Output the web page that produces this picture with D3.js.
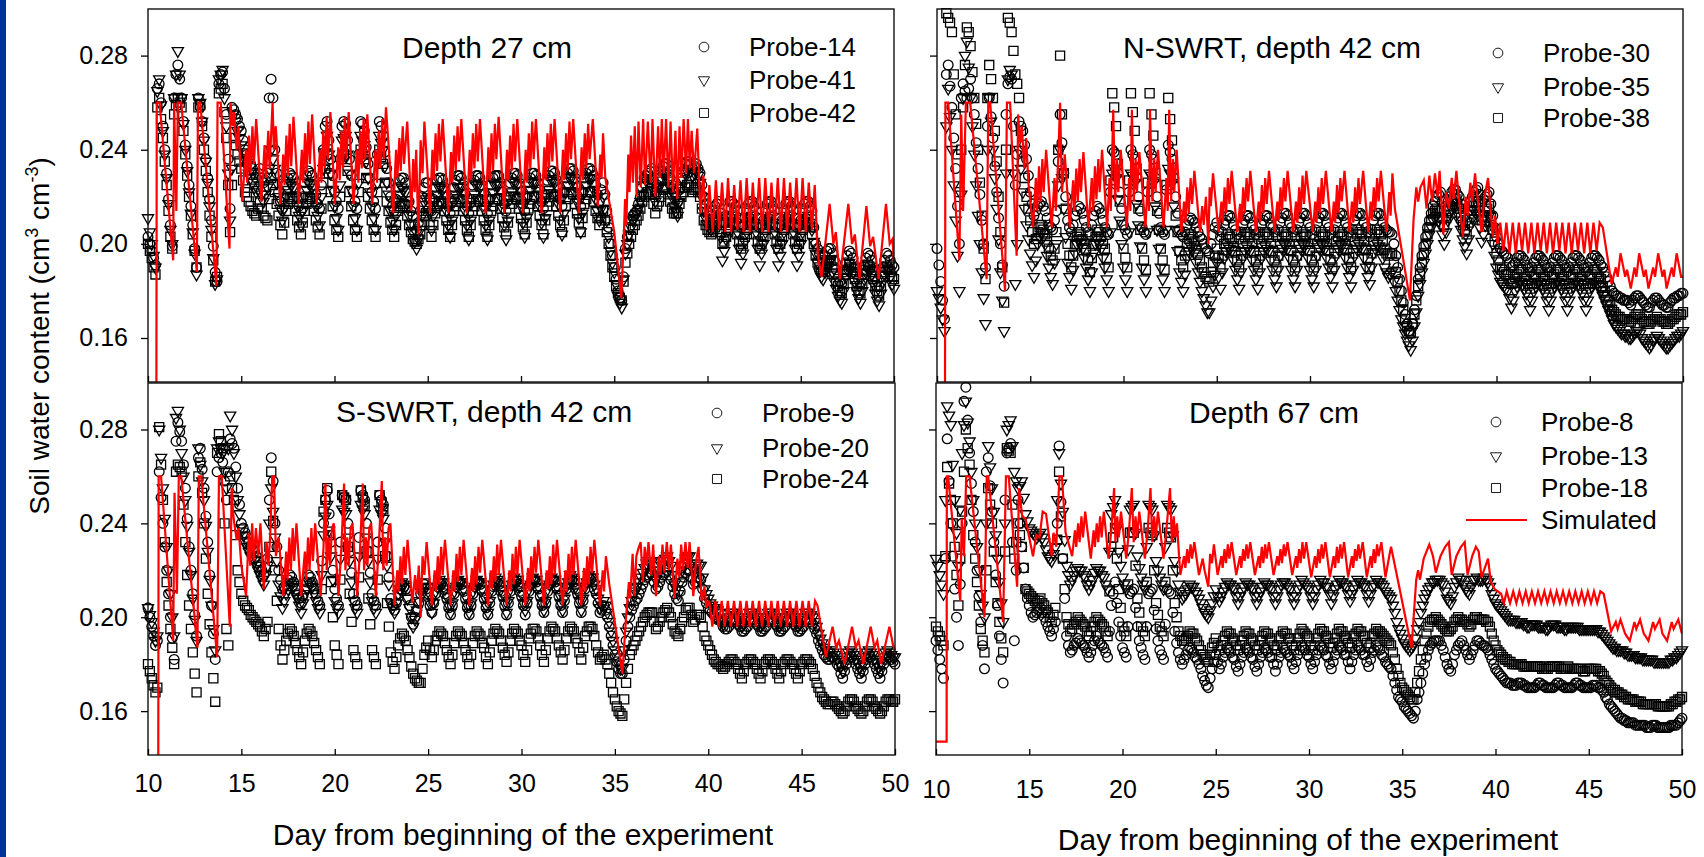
<!DOCTYPE html>
<html>
<head>
<meta charset="utf-8">
<script src="https://cdn.jsdelivr.net/npm/d3@7"></script>
<style>
  body { margin: 0; background: #fff; }
  text { font-family: "Liberation Sans", Arial, sans-serif; }
</style>
</head>
<body>
<svg width="1704" height="857"></svg>
<script>
// probe readings every 0.2 day: "a" series start at day 10.0, "b" series at day 10.1
// values in 1/1000 cm3 cm-3
const startA = 10, startB = 10.1, gridStep = 0.2;

const dayTicks = [10, 15, 20, 25, 30, 35, 40, 45, 50];
const swcTicks = [0.16, 0.20, 0.24, 0.28];

// ---- Depth 27 cm
const tl14 = [203,197,191,268,250, 230,208,262,276,262, 242,225,208,190,258, 245,228,210,188,268, 273,255,215,257,253,
  248,240,236,232,228, 232,226,230,270,240, 222,215,225,230,228, 220,214,226,231,229, 221,215,240,252,236,
  222,215,250,251,236, 222,215,252,248,234, 222,215,252,246,232, 220,214,224,228,226, 218,212,206,214,224,
  226,214,224,228,227, 220,213,224,229,228, 221,213,225,229,228, 221,213,225,229,229, 222,214,226,230,229,
  222,214,226,230,229, 223,215,227,231,230, 224,216,228,232,231, 224,216,228,232,231, 225,218,226,214,200,
  190,180,176,198,207, 212,214,220,228,230, 232,222,228,233,234, 228,222,218,228,234, 235,232,234,230,220,
  214,212,216,218,208, 212,218,217,214,207, 211,217,218,214,207, 210,217,218,214,207, 210,217,218,214,207,
  210,217,218,214,200, 196,193,197,198,193, 186,183,192,197,194, 187,183,191,196,193, 186,182,190,196,193,
  190];
const tl14b = [200,194,266,260,240, 219,199,272,270,252, 233,216,198,262,252, 236,219,199,184,272, 266,236,258,255,250,
  244,238,234,230,230, 228,227,262,262,230, 218,220,228,229,224, 216,220,229,230,225, 217,225,250,244,229,
  218,236,252,244,229, 218,238,251,241,228, 218,238,250,239,226, 216,219,227,228,222, 214,208,209,220,226,
  219,219,227,228,224, 216,218,227,229,225, 216,219,227,229,225, 216,219,228,229,226, 217,220,228,230,226,
  217,220,228,230,226, 218,221,229,231,227, 219,222,230,232,228, 219,222,230,232,229, 221,223,221,207,195,
  185,177,186,203,210, 213,217,224,229,231, 227,225,231,234,231, 225,220,223,231,235, 234,233,232,225,217,
  213,214,217,213,209, 215,218,216,211,208, 214,218,216,211,208, 214,218,216,211,208, 214,218,216,211,208,
  214,218,216,207,198, 194,195,198,196,189, 184,188,195,196,190, 185,187,194,195,189, 184,186,193,195,191];
const tl41 = [211,200,190,270,248, 228,206,262,282,262, 240,222,205,187,260, 244,226,206,183,270, 274,250,210,255,248,
  242,236,230,226,222, 225,218,224,240,232, 220,210,220,226,224, 216,208,220,226,224, 216,208,232,246,230,
  216,206,244,246,230, 216,206,246,242,228, 216,206,246,240,226, 214,206,218,224,222, 212,205,198,206,218,
  220,206,218,224,223, 214,203,218,224,224, 214,202,218,225,224, 215,202,219,225,225, 215,202,219,226,225,
  216,203,220,226,226, 216,203,220,227,226, 217,204,222,228,227, 218,205,222,228,228, 219,210,220,210,197,
  188,178,173,196,204, 210,213,218,225,228, 228,218,224,230,230, 224,216,212,224,230, 232,229,231,226,214,
  208,206,210,212,193, 202,210,212,205,192, 201,210,212,205,191, 200,210,212,205,191, 200,210,212,205,191,
  200,210,212,206,196, 188,185,191,193,184, 178,175,186,192,188, 180,175,185,191,187, 179,174,184,191,186,
  181];
const tl41b = [205,195,265,259,238, 217,200,272,272,251, 231,213,196,262,252, 235,216,194,185,272, 262,230,232,252,245,
  239,233,228,224,223, 221,221,232,236,226, 215,215,223,225,220, 212,214,223,225,220, 212,220,239,238,223,
  211,225,245,238,223, 211,226,244,235,222, 211,226,243,233,221, 210,212,221,223,217, 208,201,202,212,219,
  213,212,221,224,218, 208,210,221,224,219, 208,210,221,225,219, 208,210,222,225,220, 208,210,222,226,220,
  209,211,223,226,221, 209,211,223,227,221, 210,213,225,228,222, 211,213,225,228,223, 214,215,215,203,192,
  183,175,185,200,207, 211,215,221,227,228, 223,221,227,230,227, 220,214,218,227,231, 231,230,229,220,211,
  207,208,211,203,197, 206,211,209,198,196, 205,211,209,198,196, 205,211,209,198,195, 205,211,209,198,195,
  205,211,209,201,192, 186,188,192,188,181, 176,180,189,190,184, 177,180,188,189,183, 176,179,187,189,183];
const tl42 = [200,194,187,262,245, 225,203,255,262,258, 238,220,204,190,259, 240,222,203,184,264, 268,245,205,245,238,
  232,222,218,214,212, 218,212,210,228,222, 212,204,214,220,218, 210,204,214,220,218, 210,204,226,238,222,
  210,203,236,240,222, 210,203,240,236,220, 210,203,240,234,218, 209,203,214,218,216, 208,202,200,204,212,
  214,203,213,218,217, 210,203,214,219,218, 210,203,214,219,218, 210,203,214,219,219, 211,204,215,220,219,
  211,204,215,220,220, 212,204,216,221,220, 212,205,216,222,221, 213,205,217,222,222, 214,208,214,205,195,
  186,179,176,192,200, 206,210,215,220,222, 222,213,218,223,224, 218,213,213,220,224, 225,222,224,220,210,
  206,204,207,209,200, 203,208,209,204,198, 203,208,209,204,198, 203,208,209,204,198, 203,208,209,204,198,
  203,208,209,204,195, 190,188,192,193,187, 182,179,187,191,188, 182,179,187,191,188, 182,178,186,190,188,
  185];
const tl42b = [197,190,258,253,235, 214,198,259,260,248, 229,212,197,258,250, 231,212,193,186,266, 256,225,225,242,235,
  227,220,216,213,215, 215,211,219,225,217, 208,209,217,219,214, 207,209,217,219,214, 207,215,232,230,216,
  206,220,238,231,216, 206,222,238,228,215, 206,222,237,226,214, 206,208,216,217,212, 205,201,202,208,213,
  208,208,216,218,214, 206,208,216,219,214, 206,208,216,219,214, 206,208,216,219,215, 207,209,217,220,215,
  207,209,217,220,216, 208,210,218,221,216, 208,210,219,222,217, 209,211,219,222,218, 211,211,210,200,190,
  182,177,184,196,203, 208,212,218,221,222, 217,216,220,224,221, 215,213,217,222,225, 224,223,222,215,208,
  205,205,208,205,201, 206,209,207,201,200, 206,209,207,201,200, 206,209,207,201,200, 206,209,207,201,200,
  206,209,207,200,192, 189,190,193,190,184, 180,183,189,190,185, 180,183,189,190,185, 180,182,188,189,186];
const tlSim = [10.45,141, 10.47,260, 10.62,260, 11.35,193, 11.4,260, 11.52,214, 11.6,260, 11.78,260, 12.62,188, 12.68,260, 12.8,260,
  13.67,182, 13.73,260, 13.9,260, 14.37,198, 14.42,260, 14.55,250, 14.62,256, 14.75,240, 14.85,250, 15.05,218,
  15.25,240, 15.32,226, 15.42,246, 15.5,230, 15.6,250, 15.68,234, 15.8,253, 16.08,218,
  16.25,242, 16.32,228, 16.45,248, 16.52,232, 16.68,260, 16.75,240, 16.85,250, 17.1,217,
  17.25,238, 17.32,225, 17.42,246, 17.5,229, 17.6,251, 17.68,233, 17.8,254, 18.08,217,
  18.25,240, 18.32,226, 18.42,247, 18.5,230, 18.6,252, 18.68,234, 18.8,255, 19.05,217,
  19.22,240, 19.3,226, 19.4,248, 19.48,232, 19.58,254, 19.65,236, 19.78,256, 20.02,217,
  20.2,241, 20.28,227, 20.38,248, 20.46,232, 20.56,254, 20.64,236, 20.76,256, 21.02,217,
  21.2,240, 21.28,226, 21.38,248, 21.46,232, 21.56,253, 21.64,236, 21.76,255, 22.02,217,
  22.2,240, 22.28,226, 22.38,248, 22.46,232, 22.56,253, 22.64,236, 22.76,258, 23.15,213,
  23.3,240, 23.37,228, 23.48,245, 23.55,231, 23.66,250, 23.73,234, 23.9,252, 24.12,214,
  24.22,236, 24.3,222, 24.38,240, 24.5,204, 24.62,244, 24.72,230, 24.82,252, 25.12,213,
  25.25,240, 25.32,227, 25.42,247, 25.5,231, 25.6,251, 25.68,235, 25.8,253, 26.1,213,
  26.25,239, 26.32,226, 26.42,246, 26.5,231, 26.6,250, 26.68,235, 26.8,253, 27.1,213,
  27.25,240, 27.32,227, 27.42,247, 27.5,232, 27.6,251, 27.68,235, 27.8,253, 28.1,213,
  28.25,241, 28.32,227, 28.42,247, 28.5,231, 28.6,251, 28.68,236, 28.8,254, 29.1,213,
  29.25,240, 29.32,227, 29.42,246, 29.5,231, 29.6,251, 29.68,235, 29.8,253, 30.1,213,
  30.25,240, 30.32,226, 30.42,247, 30.5,232, 30.6,252, 30.68,236, 30.8,253, 31.1,213,
  31.25,241, 31.32,227, 31.42,247, 31.5,232, 31.6,251, 31.68,235, 31.8,253, 32.1,213,
  32.25,240, 32.32,227, 32.42,247, 32.5,231, 32.6,252, 32.68,236, 32.8,253, 33.1,213,
  33.25,241, 33.32,227, 33.42,247, 33.5,232, 33.6,251, 33.68,236, 33.85,253, 34.12,216,
  34.25,238, 34.32,228, 34.4,247, 34.52,228, 35.0,205, 35.38,177, 35.5,200, 35.58,219, 35.65,208, 35.75,238, 35.82,222,
  35.9,246, 36.0,226, 36.1,250, 36.2,220, 36.3,252, 36.42,224, 36.55,253, 36.65,225, 36.8,252, 36.95,226, 37.05,253,
  37.2,220, 37.35,250, 37.45,228, 37.55,253, 37.65,230, 37.78,253, 37.9,224, 38.02,252, 38.15,222, 38.28,248, 38.38,219,
  38.5,250, 38.6,228, 38.72,253, 38.85,230, 38.95,253, 39.05,232, 39.15,248, 39.28,230, 39.45,249, 39.62,213,
  39.78,229, 39.93,206, 40.1,225, 40.28,205, 40.45,227, 40.62,206, 40.78,226, 40.95,205, 41.1,228, 41.27,205, 41.43,225,
  41.6,206, 41.77,227, 41.93,205, 42.1,228, 42.27,205, 42.43,226, 42.6,206, 42.77,228, 42.93,205, 43.1,228, 43.27,205,
  43.43,226, 43.6,206, 43.77,228, 43.93,205, 44.1,228, 44.27,205, 44.43,226, 44.6,206, 44.77,228, 44.93,205, 45.1,228,
  45.27,205, 45.43,226, 45.6,206, 45.75,225, 45.92,195, 46.12,186, 46.55,217, 46.75,200, 46.88,205, 47.1,185,
  47.55,217, 47.75,200, 47.9,204, 48.15,185, 48.52,216, 48.72,199, 48.88,203, 49.18,185, 49.57,217, 49.77,200,
  49.92,202, 50.0,192];

// ---- N-SWRT, depth 42 cm
const tr30 = [198,184,168,276,258, 232,200,268,262,270, 255,232,210,190,262, 245,222,200,182,268, 270,225,252,248,236,
  222,212,216,218,214, 208,206,214,255,230, 210,205,212,216,213, 207,204,212,216,213, 207,204,240,238,222,
  208,204,240,236,220, 207,204,240,236,220, 207,204,242,236,220, 206,203,208,211,209, 205,202,198,196,204,
  209,203,208,212,211, 206,202,208,212,211, 206,202,208,212,211, 207,203,209,213,212, 207,203,209,213,212,
  207,202,209,213,212, 207,202,209,213,212, 207,203,210,213,212, 207,203,210,213,212, 207,205,204,195,185,
  175,166,162,172,185, 195,203,210,216,220, 222,214,218,222,223, 220,214,210,218,222, 224,218,220,222,212,
  203,198,196,194,190, 192,195,194,191,188, 192,195,194,191,188, 192,195,194,191,188, 192,195,194,191,188,
  192,195,194,191,188, 184,180,178,177,176, 176,174,177,178,176, 174,173,176,177,175, 174,173,176,177,178,
  179];
const tr30b = [191,176,272,267,245, 216,262,265,266,262, 243,221,200,250,254, 233,211,191,255,271, 250,238,250,242,229,
  217,214,217,216,211, 207,210,235,243,220, 207,208,214,215,210, 205,208,214,215,210, 205,222,239,230,215,
  206,222,238,228,214, 205,222,238,228,213, 205,223,239,228,213, 204,205,210,210,207, 203,200,197,200,207,
  206,205,210,212,208, 204,205,210,212,208, 204,205,210,212,208, 205,206,211,213,209, 205,206,211,213,209,
  204,206,211,213,209, 204,206,211,213,209, 205,206,212,213,209, 205,206,212,213,209, 206,205,200,190,180,
  170,163,166,178,190, 199,207,213,218,221, 218,216,220,223,221, 217,212,214,220,223, 221,219,221,217,207,
  200,197,195,192,191, 194,195,193,190,190, 194,195,193,190,190, 194,195,193,190,190, 194,195,193,190,190,
  194,195,193,190,186, 182,179,178,177,176, 175,176,178,177,175, 173,175,177,176,174, 173,175,177,178,179];
const tr35 = [180,173,163,266,240, 210,180,262,286,262, 238,212,188,166,262, 240,215,188,163,270, 272,183,240,222,208,
  196,186,200,205,200, 190,183,200,240,215, 192,181,196,202,198, 190,180,196,202,198, 190,180,230,228,210,
  190,180,230,226,208, 190,180,230,226,206, 190,180,232,226,206, 188,180,194,199,196, 188,180,174,171,182,
  192,181,194,199,197, 189,181,194,199,197, 189,181,194,199,197, 189,182,195,200,198, 189,182,195,200,198,
  189,182,195,200,198, 190,182,195,200,198, 190,182,195,200,198, 190,183,196,200,198, 190,186,188,180,172,
  165,159,155,165,178, 188,196,204,210,212, 208,200,210,215,216, 210,202,196,208,214, 212,201,208,212,200,
  190,184,182,180,173, 180,184,183,179,172, 180,184,183,179,172, 180,184,183,179,172, 180,184,183,179,172,
  180,184,183,180,176, 172,168,165,163,162, 161,160,162,163,160, 158,156,159,161,159, 157,156,158,160,161,
  163];
const tr35b = [177,168,250,254,225, 195,221,280,275,250, 225,200,177,240,252, 228,202,176,230,274, 230,200,232,215,202,
  191,193,203,203,195, 186,192,225,228,203, 186,189,200,200,194, 185,188,200,200,194, 185,205,232,219,200,
  185,205,229,217,199, 185,205,229,216,198, 185,206,230,216,197, 184,187,197,198,192, 184,177,171,176,187,
  186,188,197,198,193, 185,188,197,198,193, 185,188,197,198,193, 185,189,198,199,194, 185,189,198,199,194,
  185,189,198,199,194, 186,189,198,199,194, 186,189,198,199,194, 186,190,198,199,194, 188,187,184,176,168,
  162,157,159,171,183, 192,200,207,211,210, 204,205,213,216,213, 206,199,202,211,213, 207,204,210,206,195,
  187,183,181,177,176, 182,184,181,176,176, 182,184,181,176,176, 182,184,181,176,176, 182,184,181,176,176,
  182,184,182,178,174, 170,166,164,162,161, 160,161,163,162,159, 157,157,160,160,158, 156,157,159,161,162];
const tr38 = [null,null,null,296,290, 255,222,258,292,284, 262,240,212,185,276, 262,235,205,175,296, 290,272,262,235,220,
  210,200,205,208,204, 198,193,205,280,230, 200,190,200,205,202, 198,188,200,206,203, 198,190,264,250,218,
  198,190,264,248,215, 198,189,264,246,214, 198,189,262,244,212, 197,190,200,204,201, 196,190,186,184,192,
  198,190,200,204,202, 197,190,200,205,203, 197,190,200,205,203, 197,190,200,205,203, 197,190,200,205,203,
  197,190,200,205,203, 197,190,201,205,203, 198,190,201,206,204, 198,190,201,206,204, 198,195,196,188,180,
  172,165,162,170,182, 192,200,207,213,215, 214,208,214,218,219, 215,208,204,214,218, 218,210,214,216,206,
  196,190,188,187,183, 186,189,188,185,181, 186,189,188,185,181, 186,189,188,185,181, 186,189,188,185,181,
  186,189,188,185,180, 176,172,170,169,168, 168,167,169,170,168, 167,166,168,169,168, 167,166,168,169,170,
  171];
const tr38b = [null,null,298,294,272, 238,240,276,290,273, 251,226,198,262,270, 248,220,190,240,294, 282,268,248,228,215,
  205,202,207,206,201, 195,198,240,255,215, 195,195,203,204,200, 193,194,203,205,200, 194,227,258,234,208,
  194,227,256,232,206, 193,226,255,230,206, 193,225,253,228,205, 193,195,202,203,198, 193,188,185,188,195,
  194,195,202,203,199, 193,195,203,204,200, 193,195,203,204,200, 193,195,203,204,200, 193,195,203,204,200,
  193,195,203,204,200, 193,196,203,204,200, 194,196,204,205,201, 194,196,204,205,201, 196,196,192,184,176,
  168,163,166,176,187, 196,204,210,214,214, 211,211,216,219,217, 211,206,209,216,218, 214,212,215,211,201,
  193,189,187,185,184, 187,189,186,183,183, 187,189,186,183,183, 187,189,186,183,183, 187,189,186,183,183,
  187,189,186,182,178, 174,171,169,168,168, 167,168,170,169,167, 166,167,168,168,167, 166,167,168,170,170];
const trSim = [10.43,141, 10.45,260, 10.6,260, 11.2,193, 11.3,255, 11.4,214, 11.55,260, 11.78,260, 12.66,185, 12.75,260, 12.85,260,
  13.65,180, 13.75,260, 13.92,260, 14.27,195, 14.35,255, 14.45,243, 14.55,250, 14.68,232, 14.78,245, 14.9,226, 15.15,207,
  15.3,228, 15.37,214, 15.47,233, 15.55,218, 15.65,236, 15.72,222, 15.85,240, 16.15,207,
  16.3,228, 16.37,214, 16.5,236, 16.6,260, 16.7,222, 16.85,238, 17.12,207,
  17.3,227, 17.37,214, 17.47,232, 17.55,218, 17.65,236, 17.72,222, 17.85,239, 18.12,207,
  18.3,228, 18.37,214, 18.47,233, 18.55,219, 18.65,236, 18.72,222, 18.85,240, 19.12,207,
  19.25,228, 19.32,214, 19.45,257, 19.55,218, 19.65,236, 19.72,222, 19.85,240, 20.18,207,
  20.3,228, 20.37,214, 20.45,257, 20.55,218, 20.65,236, 20.72,222, 20.85,239, 21.18,207,
  21.3,227, 21.37,214, 21.42,257, 21.55,218, 21.65,236, 21.72,222, 21.85,240, 22.15,207,
  22.3,228, 22.37,214, 22.45,257, 22.55,218, 22.65,236, 22.72,222, 22.85,240, 23.1,205,
  23.25,218, 23.32,209, 23.42,224, 23.5,213, 23.6,228, 23.68,217, 23.8,231, 24.1,205,
  24.22,216, 24.3,208, 24.42,220, 24.55,200, 24.62,224, 24.68,216, 24.8,230, 25.1,205,
  25.25,218, 25.32,209, 25.42,224, 25.5,213, 25.6,228, 25.68,217, 25.8,231, 26.1,205,
  26.25,217, 26.32,209, 26.42,224, 26.5,213, 26.6,228, 26.68,218, 26.8,231, 27.1,205,
  27.25,218, 27.32,209, 27.42,225, 27.5,213, 27.6,228, 27.68,217, 27.8,231, 28.1,205,
  28.25,218, 28.32,210, 28.42,224, 28.5,214, 28.6,228, 28.68,218, 28.8,231, 29.1,205,
  29.25,218, 29.32,209, 29.42,224, 29.5,213, 29.6,229, 29.68,217, 29.8,231, 30.15,205,
  30.28,218, 30.35,209, 30.45,224, 30.53,213, 30.63,228, 30.7,217, 30.85,231, 31.15,205,
  31.28,218, 31.35,209, 31.45,225, 31.53,213, 31.63,228, 31.7,218, 31.85,231, 32.12,205,
  32.25,218, 32.32,209, 32.42,224, 32.5,213, 32.6,228, 32.68,217, 32.85,231, 33.12,205,
  33.25,218, 33.32,210, 33.42,224, 33.5,214, 33.6,228, 33.68,218, 33.8,231, 34.1,205,
  34.25,222, 34.32,212, 34.42,230, 34.55,215, 35.36,176, 35.55,210, 35.7,224, 35.8,218, 35.92,224, 36.1,227, 36.25,215,
  36.4,229, 36.55,218, 36.7,230, 36.85,220, 36.95,231, 37.15,204, 37.3,222, 37.45,215, 37.6,228, 37.7,219, 37.85,231,
  37.95,222, 38.2,203, 38.35,220, 38.45,212, 38.6,226, 38.7,218, 38.85,230, 38.95,222, 39.2,205, 39.35,220, 39.55,228,
  39.8,203, 39.92,212, 40.05,200, 40.2,209, 40.37,197, 40.53,209, 40.7,196, 40.87,209, 41.03,196, 41.2,209, 41.37,197,
  41.53,209, 41.7,196, 41.87,209, 42.03,196, 42.2,209, 42.37,197, 42.53,209, 42.7,196, 42.87,209, 43.03,196, 43.2,209,
  43.37,197, 43.53,209, 43.7,196, 43.87,209, 44.03,196, 44.2,209, 44.37,197, 44.53,209, 44.7,196, 44.87,209, 45.03,196,
  45.2,209, 45.37,197, 45.53,209, 45.7,207, 46.17,183, 46.4,190, 46.5,186, 46.65,196, 46.9,186, 47.0,189, 47.2,181,
  47.4,190, 47.5,186, 47.65,196, 47.9,186, 48.0,189, 48.15,181, 48.4,190, 48.5,186, 48.67,196, 48.9,186, 49.0,189,
  49.12,181, 49.4,190, 49.5,186, 49.66,196, 49.9,186, 50.0,186];

// ---- S-SWRT, depth 42 cm
const bl9 = [204,196,188,262,240, 220,200,182,283,275, 255,230,210,192,272, 255,232,205,182,268, 266,250,276,272,255,
  240,236,232,229,226, 222,218,225,268,240, 220,212,214,218,215, 210,206,212,218,215, 210,205,240,254,232,
  212,205,252,250,228, 210,205,254,250,228, 210,205,252,248,226, 208,203,210,214,212, 205,197,203,210,214,
  210,202,210,215,213, 208,201,210,215,214, 208,201,210,215,214, 208,201,211,215,214, 209,201,211,216,214,
  209,201,211,216,215, 209,202,211,216,215, 209,202,212,216,215, 210,202,212,217,215, 210,202,205,200,192,
  184,178,176,190,200, 205,208,212,216,218, 218,212,215,218,220, 216,210,207,215,219, 220,214,217,216,208,
  204,202,200,199,196, 195,198,199,197,194, 195,198,199,197,194, 195,198,199,197,194, 195,198,199,197,194,
  195,198,199,197,193, 188,184,182,183,182, 179,174,180,184,182, 178,174,180,184,182, 178,174,180,184,182,
  180];
const bl9b = [200,192,190,251,230, 210,191,275,279,265, 242,220,201,268,263, 243,218,193,262,270, 258,262,274,264,248,
  238,234,230,228,224, 220,221,250,258,230, 216,213,216,217,212, 208,209,215,217,212, 207,224,250,244,220,
  208,232,251,240,219, 207,234,252,240,219, 207,232,250,238,217, 205,206,212,213,208, 200,200,206,212,212,
  205,206,213,214,210, 204,205,213,215,211, 204,205,213,215,211, 204,206,213,215,211, 205,206,214,215,211,
  205,206,214,216,212, 205,206,214,216,212, 205,207,214,216,212, 206,207,215,216,212, 206,203,203,196,188,
  181,176,182,196,203, 207,210,214,217,219, 215,213,217,219,218, 213,208,211,217,220, 217,215,217,212,206,
  203,201,199,198,195, 196,199,198,196,194, 196,199,198,196,194, 196,199,198,196,194, 196,199,198,196,194,
  196,199,198,195,190, 186,183,182,183,180, 176,177,182,183,180, 176,177,182,183,180, 176,177,182,183,181];
const bl20 = [204,198,190,280,255, 230,210,192,288,270, 250,228,208,190,265, 250,228,205,186,275, 270,255,286,270,250,
  238,232,228,225,222, 218,214,222,255,234, 214,204,210,215,213, 208,202,210,215,213, 207,202,235,248,226,
  207,202,246,244,224, 207,202,248,244,224, 207,202,246,242,222, 206,202,210,215,213, 204,196,203,211,215,
  211,202,211,216,215, 209,202,211,216,215, 209,202,211,216,215, 209,202,212,217,215, 210,202,212,217,216,
  210,203,212,217,216, 210,203,212,217,216, 210,203,213,218,216, 211,203,213,218,217, 212,204,207,202,194,
  186,180,178,194,204, 210,213,217,221,224, 224,216,220,224,226, 222,214,210,220,225, 226,220,223,222,212,
  208,205,204,202,197, 199,202,202,200,196, 199,202,202,200,196, 199,202,202,200,196, 199,202,202,200,196,
  199,202,202,200,196, 191,187,185,186,184, 181,177,183,186,184, 181,177,183,186,184, 181,177,183,186,184,
  183];
const bl20b = [201,194,192,268,242, 220,200,285,280,260, 239,218,199,272,258, 239,216,195,272,272, 262,272,280,260,244,
  235,230,226,224,220, 216,218,240,245,224, 209,207,212,214,210, 205,206,212,214,210, 204,218,243,237,216,
  204,225,245,234,215, 204,226,246,234,215, 204,225,244,232,214, 204,206,212,214,208, 200,199,207,213,213,
  206,206,213,215,212, 205,206,213,215,212, 205,206,213,215,212, 205,207,214,216,212, 206,207,214,216,213,
  206,207,214,216,213, 206,207,214,216,213, 206,208,215,217,213, 207,208,215,217,214, 208,205,205,198,190,
  183,178,186,200,207, 211,215,219,223,224, 220,218,222,225,224, 218,212,215,222,226, 223,221,222,217,210,
  206,204,203,199,198, 200,202,201,198,197, 200,202,201,198,197, 200,202,201,198,197, 200,202,201,198,197,
  200,202,201,198,193, 189,186,185,185,182, 179,180,185,185,182, 179,180,185,185,182, 179,180,185,185,183];
const bl24 = [180,174,168,281,250, 215,195,180,265,262, 232,205,185,168,266, 240,210,185,164,278, 272,195,260,250,220,
  210,205,203,200,198, 196,192,198,262,220, 195,182,190,195,192, 186,180,190,195,192, 186,180,245,255,215,
  188,180,252,250,210, 186,180,254,248,208, 186,180,252,246,206, 185,178,188,193,190, 183,176,173,172,184,
  190,183,190,194,192, 186,180,189,194,192, 186,180,189,194,192, 187,180,190,195,193, 187,181,190,195,193,
  188,181,191,195,194, 188,181,191,196,194, 188,182,191,196,194, 189,182,192,196,195, 188,182,184,180,172,
  165,160,158,172,184, 188,192,196,200,202, 202,195,198,202,204, 200,194,192,198,203, 204,198,201,200,192,
  188,184,181,180,178, 180,182,181,178,174, 180,182,181,178,174, 180,182,181,178,174, 180,182,181,178,174,
  180,182,181,178,172, 168,165,163,164,163, 161,159,162,165,164, 161,159,162,165,164, 161,159,162,165,164,
  165];
const bl24b = [177,171,170,265,232, 205,187,262,264,248, 218,195,176,260,253, 225,197,174,270,275, 240,188,255,235,215,
  207,204,201,199,197, 194,195,230,241,207, 188,186,193,194,189, 183,185,193,194,189, 183,212,250,235,200,
  184,216,251,230,198, 183,217,251,228,197, 183,216,249,226,196, 181,183,191,192,186, 179,174,172,178,187,
  186,186,192,193,189, 183,184,192,193,189, 183,184,192,193,189, 183,185,193,194,190, 184,185,193,194,190,
  184,186,193,195,191, 184,186,194,195,191, 185,186,194,195,191, 185,187,194,196,192, 185,183,182,176,168,
  162,159,165,178,186, 190,194,198,201,202, 198,196,200,203,202, 197,193,195,200,204, 201,199,201,196,190,
  186,182,180,179,179, 181,182,180,176,177, 181,182,180,176,177, 181,182,180,176,177, 181,182,180,176,177,
  181,182,180,175,170, 166,164,163,164,162, 160,160,164,165,162, 160,160,164,165,162, 160,160,164,165,164];
const blSim = [10.55,141, 10.57,260, 10.7,260, 11.35,190, 11.42,253, 11.55,210, 11.65,260, 11.78,260, 12.65,187, 12.72,260, 12.85,260,
  13.7,183, 13.8,260, 13.95,260, 14.38,196, 14.48,255, 14.55,245, 14.62,240, 14.75,233, 14.85,238, 15.0,222, 15.25,209,
  15.4,236, 15.47,222, 15.58,240, 15.66,224, 15.78,238, 15.9,226, 16.02,240, 16.2,212, 16.35,232, 16.45,222, 16.55,236,
  16.65,260, 16.75,260, 16.85,226, 17.0,234, 17.25,209,
  17.4,228, 17.47,216, 17.57,234, 17.65,220, 17.75,238, 17.83,224, 17.95,240, 18.2,209,
  18.4,228, 18.47,216, 18.57,234, 18.65,220, 18.75,238, 18.83,224, 18.95,240, 19.25,209,
  19.4,230, 19.5,257, 19.57,220, 19.67,234, 19.75,222, 19.85,238, 19.95,240, 20.2,209,
  20.35,229, 20.5,257, 20.57,220, 20.67,234, 20.75,222, 20.85,238, 20.95,240, 21.2,209,
  21.35,228, 21.5,257, 21.57,220, 21.67,234, 21.75,222, 21.85,238, 21.95,240, 22.2,209,
  22.35,229, 22.52,258, 22.6,220, 22.7,234, 22.78,222, 22.88,238, 22.98,240, 23.2,205,
  23.35,220, 23.42,211, 23.52,226, 23.6,214, 23.7,230, 23.78,218, 23.9,233, 24.15,206,
  24.3,218, 24.4,210, 24.5,222, 24.6,200, 24.7,226, 24.8,218, 24.92,232, 25.2,205,
  25.35,220, 25.42,211, 25.52,226, 25.6,214, 25.7,230, 25.78,218, 25.9,233, 26.2,205,
  26.35,220, 26.42,211, 26.52,227, 26.6,215, 26.7,230, 26.78,218, 26.9,233, 27.2,205,
  27.35,221, 27.42,211, 27.52,226, 27.6,214, 27.7,230, 27.78,219, 27.9,233, 28.2,205,
  28.35,220, 28.42,212, 28.52,226, 28.6,215, 28.7,231, 28.78,218, 28.9,233, 29.2,205,
  29.35,220, 29.42,211, 29.52,227, 29.6,214, 29.7,230, 29.78,218, 29.9,233, 30.2,205,
  30.35,221, 30.42,211, 30.52,226, 30.6,215, 30.7,230, 30.78,219, 30.9,233, 31.2,205,
  31.35,220, 31.42,212, 31.52,226, 31.6,214, 31.7,231, 31.78,218, 31.9,233, 32.2,205,
  32.35,220, 32.42,211, 32.52,227, 32.6,215, 32.7,230, 32.78,218, 32.9,233, 33.2,205,
  33.35,221, 33.42,211, 33.52,226, 33.6,214, 33.7,230, 33.78,219, 33.9,233, 34.2,205,
  34.35,220, 34.42,211, 34.52,226, 34.7,214, 35.4,176, 35.6,200, 35.75,215, 35.82,208, 35.95,227, 36.05,209, 36.15,226,
  36.25,229, 36.38,232, 36.5,215, 36.6,230, 36.7,222, 36.8,232, 36.95,218, 37.05,231, 37.2,209, 37.35,226, 37.45,218,
  37.55,231, 37.65,219, 37.78,232, 37.9,220, 38.0,231, 38.2,208, 38.35,225, 38.45,217, 38.55,231, 38.65,220, 38.78,232,
  38.9,221, 39.0,232, 39.2,209, 39.35,224, 39.48,230, 39.65,207, 39.8,213, 39.9,204,
  40.05,207, 40.22,196, 40.38,207, 40.55,196, 40.72,207, 40.88,196, 41.05,207, 41.22,196, 41.38,207, 41.55,196, 41.72,207,
  41.88,196, 42.05,207, 42.22,196, 42.38,207, 42.55,196, 42.72,207, 42.88,196, 43.05,207, 43.22,196, 43.38,207, 43.55,196,
  43.72,207, 43.88,196, 44.05,207, 44.22,196, 44.38,207, 44.55,196, 44.72,207, 44.88,196, 45.05,207, 45.22,196, 45.38,207,
  45.55,196, 45.72,207, 45.85,205, 46.3,183, 46.66,196, 46.85,187, 47.0,190, 47.3,180, 47.7,196, 47.9,187, 48.05,190,
  48.3,180, 48.7,196, 48.9,187, 49.05,190, 49.25,180, 49.7,196, 49.9,188, 50.0,186];

// ---- Depth 67 cm
const br8 = [190,182,174,276,240, 212,188,240,298,270, 245,220,198,178,268, 245,218,192,172,270, 274,190,250,230,212,
  205,200,202,204,200, 196,192,198,273,225, 192,185,188,191,189, 187,183,188,192,189, 187,183,205,215,198,
  187,183,210,212,196, 187,182,210,212,195, 186,182,212,210,194, 185,180,184,187,185, 182,178,173,170,178,
  184,178,183,187,185, 182,177,183,187,185, 182,177,183,187,185, 183,177,183,187,185, 183,178,184,188,186,
  183,178,184,188,186, 183,178,184,188,186, 184,178,184,188,186, 184,179,185,188,186, 183,180,178,172,166,
  164,161,159,157,165, 172,180,186,189,190, 190,186,180,177,184, 188,190,186,182,186, 190,189,188,186,182,
  178,176,174,172,172, 171,172,172,171,170, 170,171,172,171,170, 170,171,172,171,170, 170,171,172,171,170,
  170,171,171,170,168, 165,162,160,158,157, 156,155,155,154,154, 154,153,154,154,153, 153,153,154,154,155,
  157];
const br8b = [186,178,225,258,226, 200,214,292,284,257, 232,209,188,262,256, 232,205,182,250,272, 232,220,240,221,208,
  202,201,203,202,198, 194,195,240,249,208, 188,186,189,190,188, 185,185,190,190,188, 185,194,210,206,192,
  185,196,211,204,190, 184,196,211,203,190, 184,197,211,202,189, 182,182,186,186,183, 180,175,171,174,181,
  181,180,185,186,183, 179,180,185,186,183, 179,180,185,186,183, 180,180,185,186,184, 180,181,186,187,184,
  180,181,186,187,184, 180,181,186,187,184, 181,181,186,187,184, 181,182,186,187,184, 181,179,175,169,165,
  162,160,158,160,168, 176,183,188,190,190, 188,183,178,180,186, 189,188,184,184,188, 190,188,187,184,180,
  177,175,173,172,171, 171,172,171,170,170, 170,172,171,170,170, 170,172,171,170,170, 170,172,171,170,170,
  170,171,170,169,166, 163,161,159,157,156, 155,155,154,154,154, 153,153,154,153,153, 153,153,154,154,156];
const br13 = [225,218,210,290,282, 250,222,270,292,275, 250,230,210,200,273, 255,235,215,198,280, 284,262,255,258,244,
  238,236,234,236,232, 226,224,230,270,245, 222,214,218,221,220, 217,212,216,221,220, 217,212,244,250,228,
  217,212,246,248,226, 217,212,248,246,224, 217,212,248,246,224, 214,208,210,214,213, 210,206,202,200,206,
  212,207,211,215,214, 212,206,211,215,214, 212,206,211,215,214, 212,206,212,215,214, 212,206,212,216,214,
  212,206,212,216,215, 213,206,212,216,215, 213,207,212,216,215, 213,207,213,216,215, 213,210,208,202,195,
  191,188,186,188,195, 202,208,212,215,216, 216,214,208,206,213, 217,216,212,210,216, 217,216,217,215,210,
  206,204,202,200,199, 199,198,198,197,196, 197,197,196,196,195, 197,197,196,196,195, 196,196,196,195,195,
  195,195,195,194,192, 190,188,187,186,186, 185,184,184,183,183, 182,182,182,181,181, 181,181,182,183,184,
  186];
const br13b = [222,214,250,286,265, 236,246,282,283,262, 240,220,205,240,264, 245,225,206,240,282, 273,258,256,251,241,
  237,235,235,234,229, 225,227,250,257,233, 218,216,220,220,218, 214,214,219,220,218, 214,228,247,238,222,
  214,229,247,236,221, 214,230,247,235,220, 214,230,247,235,220, 211,209,212,213,211, 208,204,201,203,209,
  209,209,213,214,213, 209,209,213,214,213, 209,209,213,214,213, 209,209,214,215,213, 209,209,214,215,213,
  209,209,214,215,213, 210,209,214,215,214, 210,210,214,215,214, 210,210,214,215,214, 211,209,205,198,193,
  189,187,187,191,198, 205,210,213,215,216, 215,211,207,209,215, 216,214,211,213,216, 216,216,216,213,208,
  205,203,201,199,199, 198,198,197,196,197, 197,196,196,195,196, 197,196,196,195,196, 196,196,195,195,195,
  195,195,194,193,191, 189,187,186,186,185, 184,184,183,183,182, 182,182,181,181,181, 181,181,182,183,185];
const br18 = [196,192,188,264,250, 230,205,245,280,265, 235,215,195,185,255, 240,215,198,185,272, 270,225,240,230,212,
  210,208,206,208,205, 202,198,204,262,225, 200,194,197,200,198, 196,192,196,200,198, 196,192,230,238,212,
  196,192,236,236,208, 196,192,238,235,206, 196,192,238,234,206, 194,190,191,194,193, 190,186,183,181,187,
  191,186,190,194,193, 190,186,190,194,193, 190,186,190,194,193, 190,186,191,194,193, 191,186,191,195,193,
  191,186,191,195,194, 191,187,191,195,194, 191,187,192,195,194, 192,187,192,195,194, 192,190,188,182,175,
  170,168,166,165,172, 182,190,196,199,200, 198,196,194,195,198, 200,199,198,196,199, 200,199,199,198,193,
  188,185,183,182,181, 180,180,180,179,179, 179,179,179,178,178, 179,179,179,178,178, 178,178,178,178,177,
  178,178,178,177,175, 172,170,169,168,167, 166,165,165,164,164, 163,163,163,163,162, 162,162,163,164,165,
  166];
const br18b = [194,190,226,257,240, 218,225,262,272,250, 225,205,190,220,248, 228,206,191,228,271, 248,232,235,221,211,
  209,207,207,206,203, 200,201,233,243,212, 197,195,198,199,197, 194,194,198,199,197, 194,211,234,225,204,
  194,214,236,222,202, 194,215,236,220,201, 194,215,236,220,200, 192,190,192,193,191, 188,184,182,184,189,
  188,188,192,193,191, 188,188,192,193,191, 188,188,192,193,191, 188,188,192,193,191, 188,188,193,194,192,
  188,188,193,194,192, 189,189,193,194,192, 189,189,193,194,192, 189,189,193,194,193, 191,189,185,178,172,
  169,167,165,168,177, 186,193,198,199,199, 197,195,194,196,199, 199,198,197,197,200, 199,199,198,196,190,
  186,184,182,181,180, 180,180,179,179,179, 179,179,178,178,179, 179,179,178,178,179, 178,178,178,177,178,
  178,178,177,176,173, 171,169,168,167,166, 165,165,164,164,163, 163,163,163,162,162, 162,162,163,164,165];
const brSim = [10.0,147, 10.57,147, 10.58,260, 10.65,260, 11.3,207, 11.38,242, 11.5,226, 11.62,260, 11.8,260, 12.6,200, 12.72,260,
  12.8,260, 13.6,198, 13.75,260, 13.9,260, 14.35,213, 14.45,255, 14.62,243, 14.8,242, 15.2,226, 15.38,235, 15.55,234,
  15.72,245, 15.9,244, 16.2,226, 16.3,236, 16.45,230, 16.62,260, 16.75,260, 16.95,236, 17.3,226,
  17.45,237, 17.52,230, 17.62,240, 17.7,232, 17.8,243, 17.88,234, 18.0,245, 18.3,225,
  18.45,237, 18.52,230, 18.62,240, 18.7,232, 18.8,243, 18.88,234, 19.0,245, 19.25,225,
  19.4,237, 19.55,255, 19.62,232, 19.72,243, 19.8,234, 19.92,245, 20.2,225,
  20.35,237, 20.5,255, 20.6,232, 20.7,243, 20.78,234, 20.9,245, 21.2,225,
  21.35,237, 21.5,255, 21.6,232, 21.7,243, 21.78,234, 21.9,245, 22.2,225,
  22.35,237, 22.55,255, 22.65,232, 22.75,243, 22.82,234, 22.92,240, 23.1,218,
  23.3,226, 23.37,221, 23.47,229, 23.55,223, 23.65,231, 23.73,225, 23.85,232, 24.1,218,
  24.3,225, 24.4,220, 24.6,213, 24.7,227, 24.8,223, 24.9,231, 25.1,218,
  25.3,226, 25.37,221, 25.47,229, 25.55,223, 25.65,231, 25.73,225, 25.85,232, 26.1,218,
  26.3,226, 26.37,221, 26.47,229, 26.55,224, 26.65,231, 26.73,225, 26.85,232, 27.1,218,
  27.3,226, 27.37,221, 27.47,230, 27.55,223, 27.65,231, 27.73,225, 27.85,232, 28.1,218,
  28.3,226, 28.37,222, 28.47,229, 28.55,223, 28.65,231, 28.73,226, 28.85,232, 29.1,218,
  29.3,226, 29.37,221, 29.47,229, 29.55,223, 29.65,232, 29.73,225, 29.85,232, 30.12,217,
  30.32,226, 30.4,221, 30.5,229, 30.58,223, 30.68,231, 30.76,225, 30.88,232, 31.12,217,
  31.32,226, 31.4,221, 31.5,230, 31.58,223, 31.68,231, 31.76,225, 31.88,232, 32.1,217,
  32.3,226, 32.37,221, 32.47,229, 32.55,224, 32.65,231, 32.73,225, 32.88,232, 33.1,217,
  33.3,226, 33.37,221, 33.47,229, 33.55,223, 33.65,231, 33.73,226, 33.88,232, 34.1,217,
  34.3,226, 34.4,230, 35.5,187, 35.75,216, 35.85,220, 35.95,216, 36.15,225, 36.45,231, 36.65,226, 36.8,219, 37.05,226,
  37.3,230, 37.5,232, 37.65,218, 37.9,226, 38.15,230, 38.35,232, 38.5,218, 38.75,226, 38.95,230, 39.1,228, 39.25,217,
  39.6,225, 39.75,215, 39.95,212, 40.3,210, 40.45,206, 40.6,211, 40.78,206, 40.95,211, 41.12,206, 41.28,211, 41.45,206,
  41.62,211, 41.78,206, 41.95,211, 42.12,206, 42.28,211, 42.45,206, 42.62,211, 42.78,206, 42.95,211, 43.12,206, 43.28,211,
  43.45,206, 43.62,211, 43.78,206, 43.95,211, 44.12,206, 44.28,211, 44.45,206, 44.62,211, 44.78,206, 44.95,211, 45.12,206,
  45.28,211, 45.45,206, 45.62,211, 45.8,210, 46.2,194, 46.45,198, 46.55,195, 46.7,199, 46.95,193, 47.2,190, 47.45,198,
  47.55,195, 47.75,199, 47.95,193, 48.2,190, 48.45,198, 48.55,195, 48.8,199, 48.95,193, 49.2,190, 49.45,198, 49.55,195,
  49.8,199, 50.0,193];

const panels = [
  { id: "tl", left: 148, right: 894, top: 9, bottom: 382, title: "Depth 27 cm", tx: 402, ty: 58,
    probes: [["Probe-14", tl14, tl14b, "circle"], ["Probe-41", tl41, tl41b, "tri"], ["Probe-42", tl42, tl42b, "square"]],
    sim: tlSim, legX: 704, legTextX: 749, legY: [47, 80, 113], yLabels: true, xLabels: false },
  { id: "tr", left: 937, right: 1683, top: 9, bottom: 382, title: "N-SWRT, depth 42 cm", tx: 1123, ty: 58,
    probes: [["Probe-30", tr30, tr30b, "circle"], ["Probe-35", tr35, tr35b, "tri"], ["Probe-38", tr38, tr38b, "square"]],
    sim: trSim, legX: 1498, legTextX: 1543, legY: [53, 87, 118], yLabels: false, xLabels: false },
  { id: "bl", left: 148, right: 895, top: 383, bottom: 755, title: "S-SWRT, depth 42 cm", tx: 336, ty: 422,
    probes: [["Probe-9", bl9, bl9b, "circle"], ["Probe-20", bl20, bl20b, "tri"], ["Probe-24", bl24, bl24b, "square"]],
    sim: blSim, legX: 717, legTextX: 762, legY: [413, 448, 479], yLabels: true, xLabels: true, pad: 19 },
  { id: "br", left: 936, right: 1682, top: 383, bottom: 755, title: "Depth 67 cm", tx: 1189, ty: 423,
    probes: [["Probe-8", br8, br8b, "circle"], ["Probe-13", br13, br13b, "tri"], ["Probe-18", br18, br18b, "square"]],
    sim: brSim, legX: 1496, legTextX: 1541, legY: [422, 456, 488, 520], yLabels: false, xLabels: true, pad: 25, simLegend: true }
];

const svg = d3.select("svg");
const FONT = '"Liberation Sans", Arial, sans-serif';

svg.append("rect").attr("x", 0).attr("y", 0).attr("width", 6).attr("height", 857).attr("fill", "#003399");

const symbols = {
  circle: d3.symbol().type(d3.symbolCircle).size(74)(),
  tri: d3.symbol().type(d3.symbolTriangle).size(54)(),
  square: d3.symbol().type(d3.symbolSquare).size(82)()
};
const symTransform = (shape, cx, cy) =>
  `translate(${cx},${cy})` + (shape === "tri" ? " rotate(180)" : "");

function gridPoints(vals, start) {
  return vals.map((v, i) => ({ day: start + i * gridStep, v: v == null ? null : v / 1000 }))
    .filter(d => d.v != null);
}
function pairPoints(flat) {
  const out = [];
  for (let i = 0; i < flat.length; i += 2) out.push({ day: flat[i], v: flat[i + 1] / 1000 });
  return out;
}

panels.forEach(p => {
  const x = d3.scaleLinear().domain([10, 50]).range([p.left, p.right]);
  const y = d3.scaleLinear().domain([0.1413, 0.2998]).range([p.bottom, p.top]);
  const g = svg.append("g");

  g.append("clipPath").attr("id", "clip-" + p.id)
    .append("rect").attr("x", p.left).attr("y", p.top)
    .attr("width", p.right - p.left).attr("height", p.bottom - p.top);

  // observed probes
  p.probes.forEach(([name, valsA, valsB, shape]) => {
    const pts = gridPoints(valsA, startA).concat(gridPoints(valsB, startB))
      .sort((a, b) => a.day - b.day);
    g.append("g").selectAll("path")
      .data(pts)
      .join("path")
      .attr("d", symbols[shape])
      .attr("transform", d => symTransform(shape, x(d.day), y(d.v)))
      .attr("fill", "none")
      .attr("stroke", "#000")
      .attr("stroke-width", 1.3);
  });

  // simulated
  g.append("path")
    .datum(pairPoints(p.sim))
    .attr("clip-path", `url(#clip-${p.id})`)
    .attr("fill", "none")
    .attr("stroke", "#ff0000")
    .attr("stroke-width", 2.2)
    .attr("d", d3.line().x(d => x(d.day)).y(d => y(d.v)));

  // frame
  g.append("rect")
    .attr("x", p.left).attr("y", p.top)
    .attr("width", p.right - p.left).attr("height", p.bottom - p.top)
    .attr("fill", "none").attr("stroke", "#111").attr("stroke-width", 1.4);

  // axes
  g.append("g")
    .attr("transform", `translate(${p.left},0)`)
    .call(d3.axisLeft(y).tickValues(swcTicks).tickSize(7).tickPadding(13)
      .tickFormat(p.yLabels ? d3.format(".2f") : () => ""))
    .call(a => a.select(".domain").remove())
    .attr("font-size", 25).attr("font-family", FONT)
    .call(a => a.selectAll("line").attr("stroke-width", 1.3));

  g.append("g")
    .attr("transform", `translate(0,${p.bottom})`)
    .call(d3.axisBottom(x).tickValues(dayTicks).tickSizeInner(-6).tickSizeOuter(0).tickPadding(p.pad || 0)
      .tickFormat(p.xLabels ? d3.format("d") : () => ""))
    .call(a => a.select(".domain").remove())
    .attr("font-size", 25).attr("font-family", FONT)
    .call(a => a.selectAll("line").attr("stroke-width", 1.3));

  // title
  g.append("text").attr("x", p.tx).attr("y", p.ty)
    .attr("font-size", 30).attr("fill", "#000").text(p.title);

  // legend
  p.probes.forEach(([name, valsA, valsB, shape], i) => {
    g.append("path").attr("d", symbols[shape])
      .attr("transform", symTransform(shape, p.legX, p.legY[i]))
      .attr("fill", "none").attr("stroke", "#1a1a1a").attr("stroke-width", 1);
    g.append("text").attr("x", p.legTextX).attr("y", p.legY[i]).attr("dy", "0.36em")
      .attr("font-size", 26).attr("fill", "#000").text(name);
  });
  if (p.simLegend) {
    const ly = p.legY[3];
    g.append("line").attr("x1", p.legX - 30).attr("x2", p.legX + 31)
      .attr("y1", ly).attr("y2", ly).attr("stroke", "#ff0000").attr("stroke-width", 2.2);
    g.append("text").attr("x", p.legTextX).attr("y", ly).attr("dy", "0.36em")
      .attr("font-size", 26).attr("fill", "#000").text("Simulated");
  }
});

// axis titles
svg.append("text").attr("x", 523).attr("y", 845).attr("text-anchor", "middle")
  .attr("font-size", 30).text("Day from beginning of the experiment");
svg.append("text").attr("x", 1308).attr("y", 850).attr("text-anchor", "middle")
  .attr("font-size", 30).text("Day from beginning of the experiment");

const yt = svg.append("text")
  .attr("transform", "translate(49,336) rotate(-90)")
  .attr("text-anchor", "middle").attr("font-size", 28);
yt.append("tspan").text("Soil water content (cm");
yt.append("tspan").attr("dy", -11).attr("font-size", 18).text("3");
yt.append("tspan").attr("dy", 11).text(" cm");
yt.append("tspan").attr("dy", -11).attr("font-size", 18).text("-3");
yt.append("tspan").attr("dy", 11).text(")");
</script>
</body>
</html>
